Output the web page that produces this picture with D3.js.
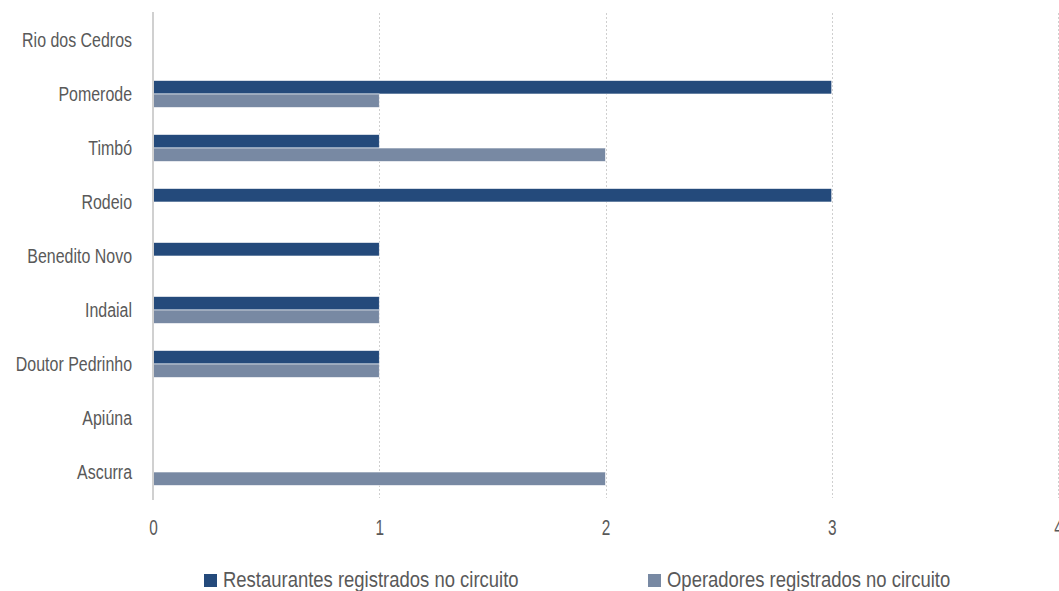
<!DOCTYPE html>
<html><head><meta charset="utf-8">
<script src="https://cdn.jsdelivr.net/npm/d3@7/dist/d3.min.js"></script>
<style>
body{margin:0;background:#fff;}
svg text{font-family:"Liberation Sans",Arial,sans-serif;fill:#595959;}
</style></head><body>
<svg id="c" width="1059" height="591"></svg>
<script>
const categories = ["Rio dos Cedros","Pomerode","Timbó","Rodeio","Benedito Novo","Indaial","Doutor Pedrinho","Apiúna","Ascurra"];
const seriesNames = ["Restaurantes registrados no circuito","Operadores registrados no circuito"];
const restaurantes = [0,3,1,3,1,1,1,0,0];
const operadores = [0,1,2,0,0,1,1,0,2];
const tickValues = [0,1,2,3,4];
const colors = ["#244a7b","#7889a3"];

const svg = d3.select("#c");
const x = d3.scaleLinear().domain([0,4]).range([153,1058]);
const y = d3.scaleBand().domain(categories).range([13,499]).paddingInner(0.5).paddingOuter(0.25);
const ySub = d3.scaleBand().domain([0,1]).range([0,y.bandwidth()]);

// gridlines
svg.append("g").selectAll("line").data(tickValues.slice(1)).join("line")
  .attr("x1",d=>Math.round(x(d))+0.5).attr("x2",d=>Math.round(x(d))+0.5)
  .attr("y1",13).attr("y2",498)
  .attr("stroke","#cfcfcf").attr("stroke-width",1).attr("stroke-dasharray","2,2");

const data = [restaurantes, operadores];
data.forEach((vals,si)=>{
  svg.append("g").selectAll("rect").data(categories).join("rect")
    .attr("x",x(0))
    .attr("y",(c)=>y(c)+ySub(si))
    .attr("width",(c,i)=>x(vals[i])-x(0))
    .attr("height",ySub.bandwidth())
    .attr("fill",colors[si])
    .attr("stroke","#fff").attr("stroke-width",0.6)
    .style("display",(c,i)=>vals[i]===0?"none":null);
});

// axis line
svg.append("line").attr("x1",153).attr("x2",153).attr("y1",12).attr("y2",500)
  .attr("stroke","#d0d0d0").attr("stroke-width",2);

// category labels (condensed by horizontal scaling)
const sxL = 0.76;
const yAxis = d3.axisLeft(y).tickSize(0).tickPadding(21);
const ga = svg.append("g").attr("transform","translate(153,0)").call(yAxis);
ga.select(".domain").remove();
ga.selectAll("text").attr("font-size",21).attr("fill","#595959")
  .attr("font-family",null)
  .attr("x",-21/sxL).attr("transform",`scale(${sxL},1)`);

// x axis
const sxT = 0.7;
const xAxis = d3.axisBottom(x).tickValues(tickValues).tickSize(0).tickPadding(0).tickFormat(d3.format("d"));
const gx = svg.append("g").attr("transform","translate(0,0)").call(xAxis);
gx.select(".domain").remove();
gx.selectAll("text").attr("font-size",22).attr("fill","#595959").attr("font-family",null)
  .attr("y",535.5).attr("dy",0).attr("transform",`scale(${sxT},1)`);

// legend
const sxG = 0.84;
const legX = [204,648];
const lg = svg.append("g");
seriesNames.forEach((n,i)=>{
  lg.append("rect").attr("x",legX[i]).attr("y",574).attr("width",13).attr("height",13).attr("fill",colors[i]);
  lg.append("g").attr("transform",`translate(${legX[i]+19},587) scale(${sxG},1)`)
    .append("text").attr("font-size",22).text(n);
});
</script></body></html>
